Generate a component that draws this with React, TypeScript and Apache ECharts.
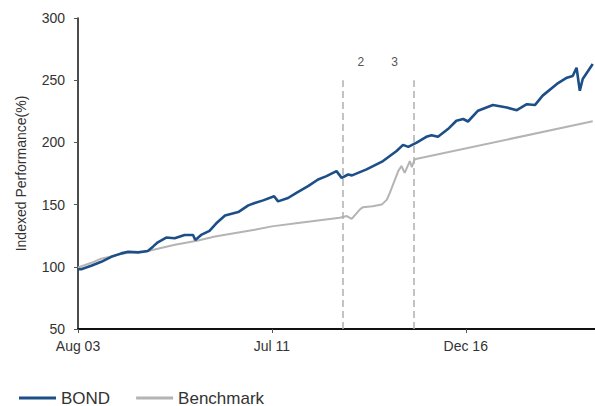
import { useEffect, useRef } from "react";
import * as echarts from "echarts";

// x is measured in trading-period index units; tick labels placed at these positions
const xTickPositions = [0, 60, 120];
const xTickLabels = ["Aug 03", "Jul 11", "Dec 16"];

const bondX = [
  0, 1, 4.1, 7.2, 10.3, 13.4, 15.5, 18.6, 21.6, 23.2, 24.7, 27.3, 29.9, 33, 35.6, 36.3, 38.1, 40.7, 42.8,
  45.5, 49.6, 52.7, 54.7, 57.3, 60.7, 61.9, 65, 67.6, 71.2, 74.3, 76.9, 80, 81.6, 83.6, 84.8, 89.3, 94.4,
  98.6, 100.6, 102.2, 104.8, 107.8, 109.4, 111.4, 114.5, 117.1, 119.2, 120.7, 123.8, 128.4, 132.7, 135.8,
  138.9, 141.4, 143.8, 148.2, 151.3, 153.1, 154.3, 155.3, 156.2, 159.3,
];
const bondY = [
  98, 98.1, 100.8, 104, 108, 110.8, 112.1, 111.6, 112.7, 116.2, 119.7, 123.5, 123, 125.6, 125.6, 121.6, 125.6,
  128.9, 135, 141.3, 144, 149.4, 151.3, 153.4, 156.7, 152.6, 155.3, 159.4, 164.8, 170.2, 172.9, 176.9, 171.5,
  174.2, 173.5, 178.3, 185, 193.1, 198, 196.4, 199.8, 204.5, 205.8, 204.5, 210.7, 217.4, 218.8, 216.8, 225.5,
  230, 228, 225.9, 230.7, 230, 237.6, 247, 252, 253.4, 260, 241.5, 251, 263,
];

const benchX = [
  0, 4, 6.8, 14.5, 20.7, 30, 36.8, 42.4, 54.7, 60, 68.7, 81, 83.2, 84.7, 87.2, 88.1, 91.2, 94, 95.6, 96.5,
  99.1, 100.1, 101.1, 102.7, 103.3, 104.2, 159.3,
];
const benchY = [
  99.5, 103, 106.2, 110.8, 112.1, 117.8, 121, 124.3, 129.7, 132.5, 135.5, 139.5, 140.8, 138.5, 146, 147.8,
  148.6, 150, 154, 159.4, 176.9, 181, 175.5, 185, 180, 186.4, 217,
];

const eventX = [82, 104];
const eventLabels = ["2", "3"];
const eventLabelX = [87.5, 98];
const eventLabelY = 265;
const eventBottom = 50;
const eventTop = 250;

export default function App() {
  const ref = useRef<HTMLDivElement>(null);
  useEffect(() => {
    if (!ref.current) return;
    const chart = echarts.init(ref.current, undefined, { renderer: "svg" });
    const font = "'Liberation Sans', Arial, sans-serif";
    chart.setOption({
      animation: false,
      backgroundColor: "#ffffff",
      textStyle: { fontFamily: font },
      grid: { left: 78, right: 0, top: 18, bottom: 77, containLabel: false },
      legend: {
        left: 14,
        top: 383,
        itemWidth: 37,
        itemHeight: 3,
        itemGap: 26,
        icon: "rect",
        data: ["BOND", "Benchmark"],
        textStyle: { fontSize: 17, lineHeight: 20, color: "#333", fontFamily: font },
      },
      xAxis: {
        type: "value",
        min: 0,
        max: 160,
        splitLine: { show: false },
        axisLine: { show: true, onZero: false, lineStyle: { color: "#111", width: 2 } },
        axisTick: { show: true, customValues: xTickPositions, length: 4, lineStyle: { color: "#555" } },
        axisLabel: {
          customValues: xTickPositions,
          formatter: (v: number) => {
            const i = xTickPositions.indexOf(v);
            return i >= 0 ? xTickLabels[i] : "";
          },
          margin: 10,
          fontSize: 14,
          color: "#333",
          fontFamily: font,
        },
      },
      yAxis: {
        type: "value",
        min: 50,
        max: 300,
        interval: 50,
        name: "Indexed Performance(%)",
        nameLocation: "middle",
        nameGap: 50,
        nameTextStyle: { fontSize: 14, color: "#333", fontFamily: font },
        splitLine: { show: false },
        axisLine: { show: true, onZero: false, lineStyle: { color: "#111", width: 1.5 } },
        axisTick: { show: true, length: 4, lineStyle: { color: "#555" } },
        axisLabel: { margin: 13, fontSize: 14, color: "#333", fontFamily: font },
      },
      series: [
        {
          name: "Benchmark",
          type: "line",
          showSymbol: false,
          data: benchX.map((x, i) => [x, benchY[i]]),
          lineStyle: { color: "#b4b4b4", width: 2 },
          itemStyle: { color: "#b4b4b4" },
          z: 2,
          markLine: {
            silent: true,
            symbol: "none",
            label: { show: false },
            lineStyle: { color: "#b0b0b0", width: 1.5, type: [7, 4] },
            data: eventX.map((x) => [
              { coord: [x, eventBottom] },
              { coord: [x, eventTop] },
            ]),
          },
          markPoint: {
            silent: true,
            symbol: "circle",
            symbolSize: 0,
            label: { show: true, position: "inside", formatter: "{b}", fontSize: 12, color: "#555", fontFamily: font },
            data: eventLabels.map((t, i) => ({ name: t, coord: [eventLabelX[i], eventLabelY] })),
          },
        },
        {
          name: "BOND",
          type: "line",
          showSymbol: false,
          data: bondX.map((x, i) => [x, bondY[i]]),
          lineStyle: { color: "#1c4f87", width: 2.6 },
          itemStyle: { color: "#1c4f87" },
          z: 3,
        },
      ],
    });
    return () => chart.dispose();
  }, []);
  return <div ref={ref} style={{ position: "fixed", left: 0, top: 0, width: 595, height: 406 }} />;
}
